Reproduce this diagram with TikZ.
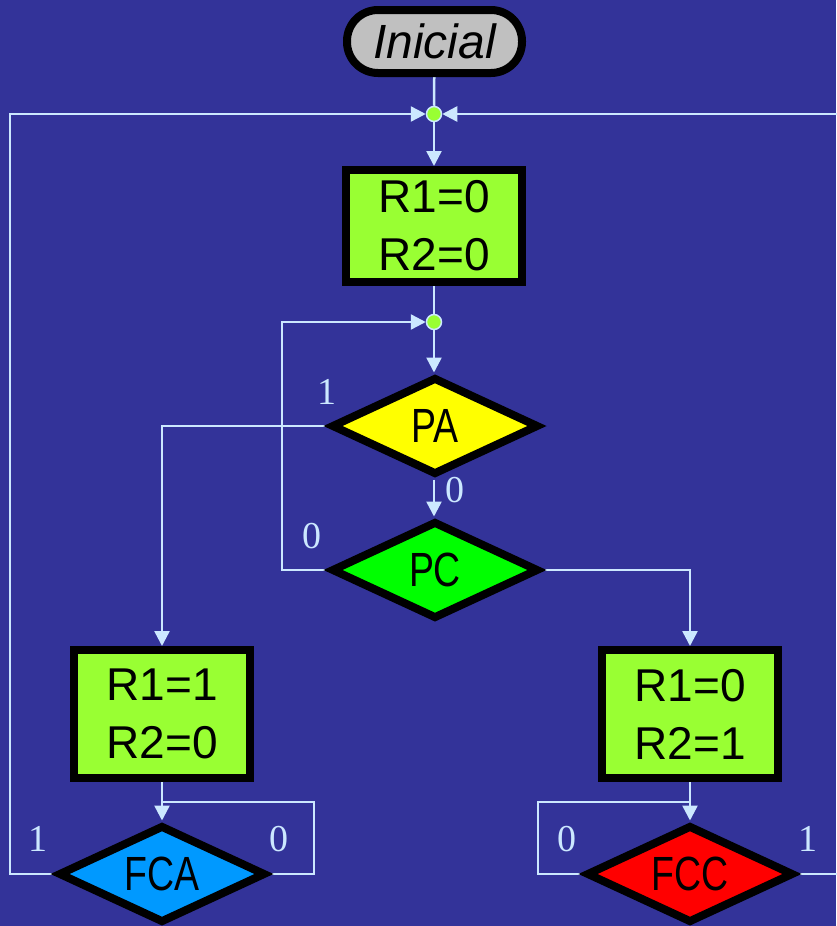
\documentclass[tikz,border=0pt]{standalone}
\usepackage{fontspec}
\setmainfont{Liberation Sans}
\newfontfamily\narrowfont[FakeStretch=0.78]{Liberation Sans}
\newfontfamily\seriffont{Liberation Serif}
\usetikzlibrary{shapes.geometric,arrows.meta,backgrounds}
\definecolor{bgblue}{RGB}{51,51,153}
\definecolor{wire}{RGB}{204,232,255}
\definecolor{lime}{RGB}{153,255,51}
\definecolor{gry}{RGB}{192,192,192}
\definecolor{skyb}{RGB}{0,153,255}
\definecolor{pyellow}{RGB}{255,255,0}
\definecolor{pgreen}{RGB}{0,255,0}
\definecolor{pred}{RGB}{255,0,0}
\begin{document}
\begin{tikzpicture}[x=1pt,y=-1pt,
  every node/.style={inner sep=0pt},
  wireline/.style={draw=wire,line width=2.5pt},
  arr/.style={wireline,-{Triangle[length=15pt,width=15pt]}},
  startbox/.style={rectangle,rounded corners=31pt,draw=black,line width=8pt,fill=gry,minimum width=175pt,minimum height=63pt,font=\itshape\fontsize{48}{50}\selectfont},
  box/.style={rectangle,draw=black,line width=8pt,fill=lime,minimum width=176pt,align=center,font=\fontsize{46}{58}\selectfont},
  dec/.style={diamond,aspect=2,draw=black,line width=8pt,minimum width=204pt,minimum height=98pt,outer xsep=0pt,outer ysep=4.5pt,font=\narrowfont\fontsize{48}{50}\selectfont},
  dot/.style={circle,fill=lime,draw=wire,line width=1.5pt,minimum size=15pt},
  lbl/.style={text=wire,font=\seriffont\fontsize{38}{40}\selectfont}
]
\useasboundingbox (0,0) rectangle (836,926);

\node[startbox] (ini) at (434.5,41.5) {Inicial};
\node[dot] (d1) at (434,114) {};
\node[box,minimum height=112pt] (b1) at (434,226) {R1=0\\R2=0};
\node[dot] (d2) at (434,322) {};
\node[dec,fill=pyellow] (pa) at (435,426) {PA};
\node[dec,fill=pgreen] (pc) at (435,570) {PC};
\node[box,minimum height=128pt] (b2) at (162,714) {R1=1\\R2=0};
\node[box,minimum height=128pt] (b3) at (690,714) {R1=0\\R2=1};
\node[dec,fill=skyb] (fca) at (162,874) {FCA};
\node[dec,fill=pred] (fcc) at (690,874) {FCC};

\node[lbl] (l1) at (327,392) {1};
\node[lbl] (l2) at (455,490) {0};
\node[lbl] (l3) at (312,536) {0};
\node[lbl] (l4) at (38,839) {1};
\node[lbl] (l5) at (279,839) {0};
\node[lbl] (l6) at (567,839) {0};
\node[lbl] (l7) at (808,839) {1};

\coordinate (xl) at (282,322);
\coordinate (ol) at (10,114);
\coordinate (orr) at (846,114);
\coordinate (fr) at (314,802);
\coordinate (cl) at (538,802);

\begin{scope}[on background layer]
\fill[bgblue] (0,0) rectangle (836,926);
\draw[wireline] (ini) -- (d1);
\draw[arr] (d1) -- (b1);
\draw[wireline] (b1) -- (d2);
\draw[arr] (d2) -- (d2 |- pa.north);
\draw[arr] (pa.south -| d2) -- (pc.north -| d2);
\draw[arr] (pc.west) -| (xl) -- (d2);
\draw[arr] (pa.west) -| (b2.north);
\draw[arr] (pc.east) -| (b3.north);
\draw[arr] (b2) -- (fca);
\draw[arr] (b3) -- (fcc);
\draw[wireline] (fca.east) -| (fr) -- (fr -| fca.north);
\draw[arr] (fca.west) -| (ol) -- (d1);
\draw[wireline] (fcc.west) -| (cl) -- (cl -| fcc.north);
\draw[arr] (fcc.east) -| (orr) -- (d1);
\end{scope}
\end{tikzpicture}
\end{document}
